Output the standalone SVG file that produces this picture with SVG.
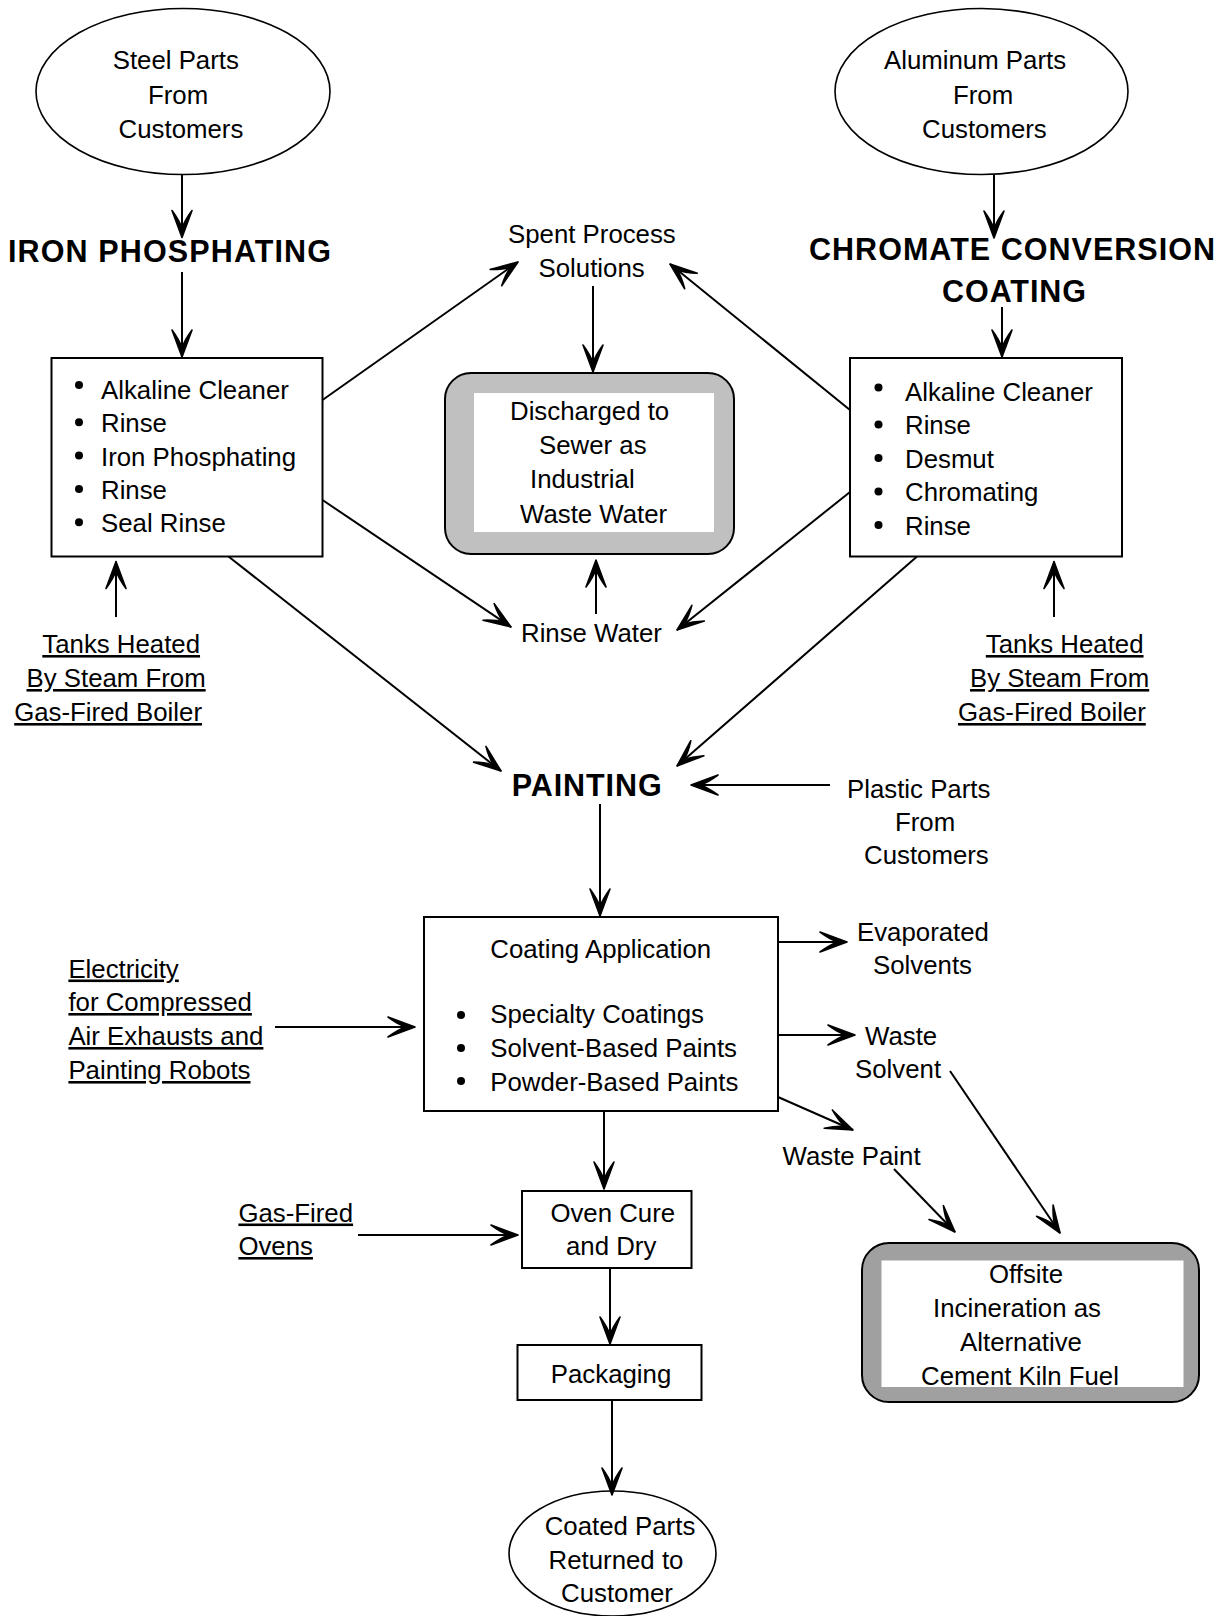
<svg xmlns="http://www.w3.org/2000/svg" width="1225" height="1616" viewBox="0 0 1225 1616">
<defs>
<marker id="ah" viewBox="-30 -12 32 24" markerWidth="32" markerHeight="24" refX="0" refY="0" orient="auto" markerUnits="userSpaceOnUse" overflow="visible">
<path d="M0,0 L-27,-10 Q-17,-2.6 -9,0 Q-17,2.6 -27,10 Z" fill="#000" stroke="#000" stroke-width="1.6" stroke-linejoin="round"/>
</marker>
<style>
text{font-family:"Liberation Sans",Arial,Helvetica,sans-serif;font-size:25.8px;fill:#000}
.h{font-weight:bold;font-size:30.5px}
.u{text-decoration:underline}
.box{fill:#fff;stroke:#000;stroke-width:2}
.ell{fill:#fff;stroke:#000;stroke-width:1.6}
.c path{fill:none;stroke:#000;stroke-width:2;marker-end:url(#ah)}
.dot{fill:#000}
</style>
</defs>
<rect width="1225" height="1616" fill="#fff"/>

<g id="steel">
<ellipse class="ell" cx="183" cy="91.5" rx="147" ry="83"/>
<text x="112.7" y="69">Steel Parts</text>
<text x="148" y="103.5">From</text>
<text x="118.6" y="137.5">Customers</text>
</g>

<g id="aluminum">
<ellipse class="ell" cx="981.5" cy="91.5" rx="146.5" ry="83"/>
<text x="884" y="69">Aluminum Parts</text>
<text x="953" y="103.5">From</text>
<text x="922" y="137.5">Customers</text>
</g>

<g id="iron-heading">
<text class="h" x="8" y="262" textLength="323" lengthAdjust="spacing">IRON PHOSPHATING</text>
</g>

<g id="chromate-heading">
<text class="h" x="809" y="259.5" textLength="406" lengthAdjust="spacing">CHROMATE CONVERSION</text>
<text class="h" x="942" y="301.7" textLength="144" lengthAdjust="spacing">COATING</text>
</g>

<g id="spent">
<text x="508" y="243">Spent Process</text>
<text x="538.5" y="277">Solutions</text>
</g>

<g id="iron-box">
<rect class="box" x="51.5" y="358" width="271" height="198.5"/>
<circle class="dot" cx="79" cy="385" r="4"/>
<circle class="dot" cx="79" cy="422.3" r="4"/>
<circle class="dot" cx="79" cy="455.6" r="4"/>
<circle class="dot" cx="79" cy="488.9" r="4"/>
<circle class="dot" cx="79" cy="522.2" r="4"/>
<text x="101" y="399">Alkaline Cleaner</text>
<text x="101" y="432.3">Rinse</text>
<text x="101" y="465.6">Iron Phosphating</text>
<text x="101" y="498.9">Rinse</text>
<text x="101" y="532.2">Seal Rinse</text>
</g>

<g id="chrom-box">
<rect class="box" x="850" y="358" width="272" height="198.5"/>
<circle class="dot" cx="878.5" cy="387.5" r="4"/>
<circle class="dot" cx="878.5" cy="424.5" r="4"/>
<circle class="dot" cx="878.5" cy="458" r="4"/>
<circle class="dot" cx="878.5" cy="491.5" r="4"/>
<circle class="dot" cx="878.5" cy="525" r="4"/>
<text x="905" y="400.5">Alkaline Cleaner</text>
<text x="905" y="434.1">Rinse</text>
<text x="905" y="467.7">Desmut</text>
<text x="905" y="501.3">Chromating</text>
<text x="905" y="534.9">Rinse</text>
</g>

<g id="discharged">
<rect x="445" y="373" width="289" height="181" rx="26" ry="26" fill="#c0c0c0" stroke="#000" stroke-width="2"/>
<rect x="474" y="393" width="240" height="139" fill="#fff"/>
<text x="510" y="420">Discharged to</text>
<text x="539" y="454">Sewer as</text>
<text x="530" y="488">Industrial</text>
<text x="520" y="522.5">Waste Water</text>
</g>

<g id="rinse-water">
<text x="521" y="642">Rinse Water</text>
</g>

<g id="tanks-left">
<text class="u" x="42.3" y="653">Tanks Heated</text>
<text class="u" x="26.5" y="687">By Steam From</text>
<text class="u" x="14.2" y="721">Gas-Fired Boiler</text>
</g>

<g id="tanks-right">
<text class="u" x="985.8" y="653">Tanks Heated</text>
<text class="u" x="970" y="687">By Steam From</text>
<text class="u" x="958" y="721">Gas-Fired Boiler</text>
</g>

<g id="painting">
<text class="h" x="511.7" y="795.7" textLength="150" lengthAdjust="spacing">PAINTING</text>
</g>

<g id="plastic">
<text x="847" y="798">Plastic Parts</text>
<text x="895" y="831">From</text>
<text x="864" y="864">Customers</text>
</g>

<g id="coating-box">
<rect class="box" x="424" y="917" width="354" height="194"/>
<text x="490.3" y="958.4">Coating Application</text>
<circle class="dot" cx="461" cy="1015" r="4"/>
<circle class="dot" cx="461" cy="1048" r="4"/>
<circle class="dot" cx="461" cy="1081" r="4"/>
<text x="490.3" y="1023.3">Specialty Coatings</text>
<text x="490.3" y="1057.3">Solvent-Based Paints</text>
<text x="490.3" y="1091">Powder-Based Paints</text>
</g>

<g id="electricity">
<text class="u" x="68.4" y="977.5">Electricity</text>
<text class="u" x="68.4" y="1011">for Compressed</text>
<text class="u" x="68.4" y="1045">Air Exhausts and</text>
<text class="u" x="68.4" y="1079">Painting Robots</text>
</g>

<g id="evaporated">
<text x="857" y="941">Evaporated</text>
<text x="873" y="974">Solvents</text>
</g>

<g id="waste-solvent">
<text x="865" y="1045">Waste</text>
<text x="855" y="1078">Solvent</text>
</g>

<g id="waste-paint">
<text x="782.5" y="1164.5">Waste Paint</text>
</g>

<g id="gas-ovens">
<text class="u" x="238.4" y="1221.5">Gas-Fired</text>
<text class="u" x="238.4" y="1255">Ovens</text>
</g>

<g id="oven">
<rect class="box" x="522" y="1191" width="169.5" height="77"/>
<text x="550.4" y="1221.5">Oven Cure</text>
<text x="566" y="1255">and Dry</text>
</g>

<g id="packaging">
<rect class="box" x="517.5" y="1345" width="184" height="55"/>
<text x="550.8" y="1382.5">Packaging</text>
</g>

<g id="offsite">
<rect x="862" y="1243" width="337" height="159" rx="27" ry="27" fill="#a0a0a0" stroke="#000" stroke-width="2"/>
<rect x="881.5" y="1260.5" width="302" height="126.5" fill="#fff"/>
<text x="1026" y="1282.5" text-anchor="middle">Offsite</text>
<text x="1017" y="1316.5" text-anchor="middle">Incineration as</text>
<text x="1021" y="1350.5" text-anchor="middle">Alternative</text>
<text x="1020" y="1384.5" text-anchor="middle">Cement Kiln Fuel</text>
</g>

<g id="returned">
<ellipse class="ell" cx="612.5" cy="1553.5" rx="103.5" ry="62.5"/>
<text x="620" y="1535" text-anchor="middle">Coated Parts</text>
<text x="616" y="1569" text-anchor="middle">Returned to</text>
<text x="617" y="1602" text-anchor="middle">Customer</text>
</g>

<g id="connectors" class="c">
<path d="M182,175 V237.5"/>
<path d="M182,272 V357"/>
<path d="M994,175 V238"/>
<path d="M1002,307 V357"/>
<path d="M322.5,400 L518,262"/>
<path d="M850,410 L670,264"/>
<path d="M593,286 V372"/>
<path d="M322.5,500 L511,627"/>
<path d="M850,492 L677,630"/>
<path d="M596,614 V560"/>
<path d="M116,617 V561.5"/>
<path d="M1054,617 V561.5"/>
<path d="M228.5,556.5 L501,771"/>
<path d="M917,556.5 L677,766"/>
<path d="M830,785 H691"/>
<path d="M600,804 V916"/>
<path d="M275,1027 H415"/>
<path d="M778,942 H847"/>
<path d="M778,1035 H855"/>
<path d="M778,1097 L853,1130"/>
<path d="M950,1071 L1060,1233"/>
<path d="M894,1169 L955,1232"/>
<path d="M604,1111 V1189"/>
<path d="M358,1235 H518"/>
<path d="M610,1268 V1344"/>
<path d="M612,1400 V1495"/>
</g>
</svg>
